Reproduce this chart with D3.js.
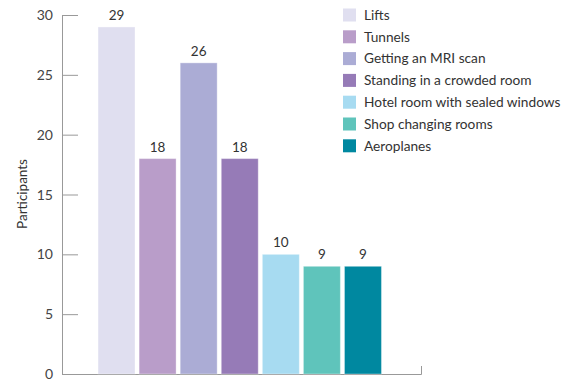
<!DOCTYPE html>
<html><head><meta charset="utf-8">
<script src="https://cdn.jsdelivr.net/npm/d3@7"></script>
<style>body{margin:0;background:#fff;}svg{display:block;font-family:Lato,sans-serif;}</style>
</head><body><svg id="c" width="561" height="382"></svg>
<script>
const categories = ["Lifts","Tunnels","Getting an MRI scan","Standing in a crowded room","Hotel room with sealed windows","Shop changing rooms","Aeroplanes"];
const values = [29,18,26,18,10,9,9];
const colors = ["#e0dff0","#b99dc9","#abacd5","#967bb7","#a7dbf1","#5fc4bb","#0088a0"];
const yTicks = [0,5,10,15,20,25,30];

const svg = d3.select("#c");
const y = d3.scaleLinear().domain([0,30]).range([374,15]);
const x = d3.scaleBand().domain(categories).range([96,383.5]).paddingInner(0.1).paddingOuter(0.05);
const axisColor = "#999";

// y axis
const yAxis = d3.axisRight(y).tickValues(yTicks).tickSize(16).tickFormat("");
const ga = svg.append("g").attr("transform","translate(62,0)").call(yAxis);
ga.select(".domain").attr("stroke",axisColor);
ga.selectAll(".tick line").attr("stroke",axisColor);
svg.append("g").selectAll("text").data(yTicks).join("text")
  .attr("x",53).attr("y",d=>y(d)).attr("dy","0.36em").attr("text-anchor","end")
  .attr("font-size",14).attr("fill","#444").text(d=>d);

// x baseline
svg.append("path").attr("d",`M62,374.5H421.5V366`).attr("fill","none").attr("stroke",axisColor);

// bars
svg.append("g").selectAll("rect").data(values).join("rect")
  .attr("x",(d,i)=>x(categories[i])).attr("width",x.bandwidth())
  .attr("y",d=>y(d)).attr("height",d=>y(0)-y(d))
  .attr("fill",(d,i)=>colors[i]).attr("stroke","rgba(255,255,255,0.35)").attr("stroke-width",1);

svg.append("g").selectAll("text").data(values).join("text")
  .attr("x",(d,i)=>x(categories[i])+x.bandwidth()/2).attr("y",d=>y(d)-7)
  .attr("text-anchor","middle").attr("font-size",13.5).attr("fill","#333").text(d=>d);

// y label
svg.append("text").attr("transform","translate(27,194) rotate(-90)")
  .attr("text-anchor","middle").attr("font-size",13.5).attr("fill","#333").text("Participants");

// legend
const lg = svg.append("g").selectAll("g").data(categories).join("g")
  .attr("transform",(d,i)=>`translate(343,${15+i*21.8})`);
lg.append("rect").attr("x",0).attr("y",-6.5).attr("width",13).attr("height",13)
  .attr("fill",(d,i)=>colors[i]);
lg.append("text").attr("x",21).attr("dy","0.35em").attr("font-size",13.7).attr("fill","#333").text(d=>d);
</script></body></html>
